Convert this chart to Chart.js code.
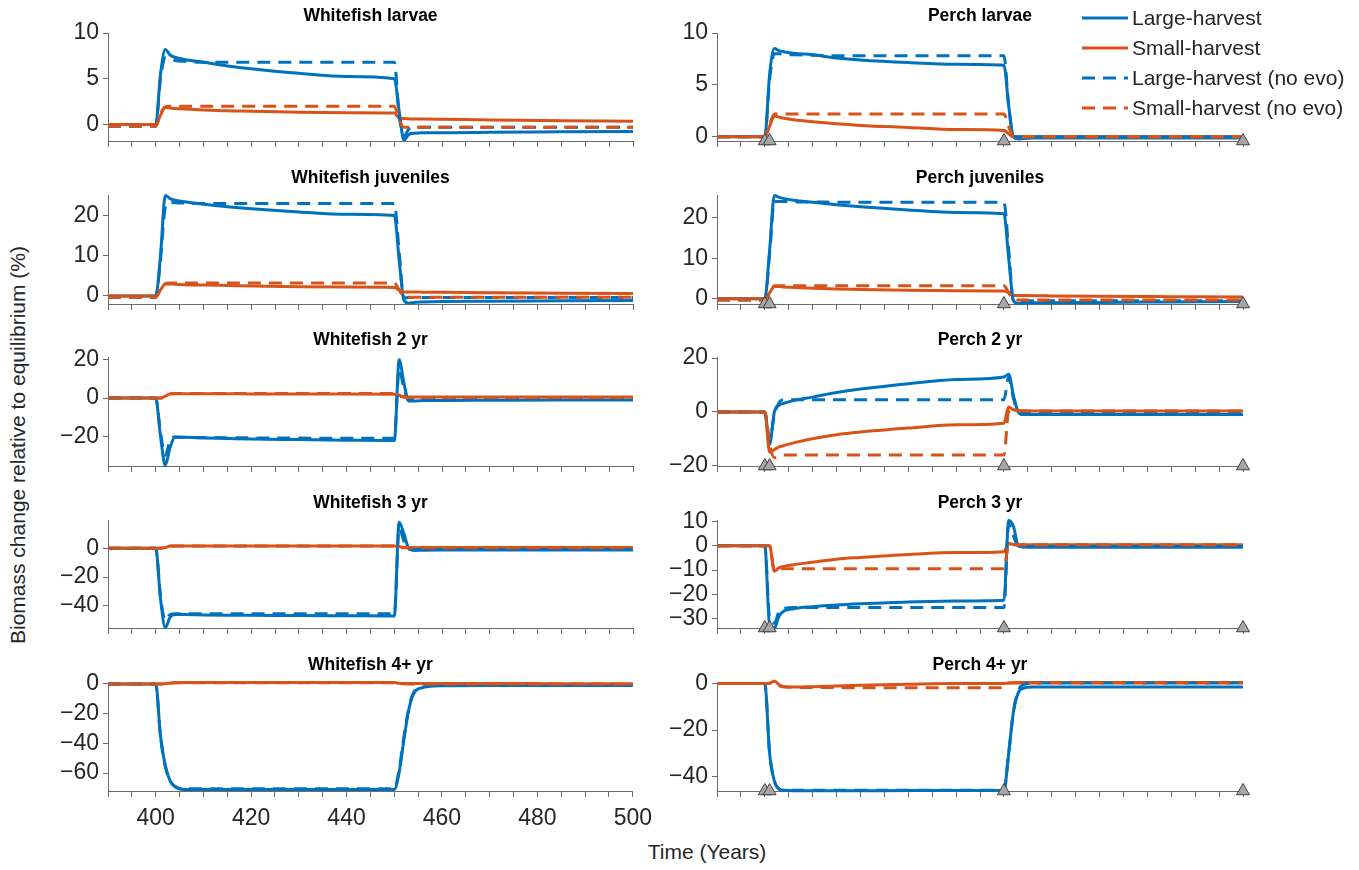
<!DOCTYPE html>
<html>
<head>
<meta charset="utf-8">
<title>Biomass change relative to equilibrium</title>
<script src="https://cdn.jsdelivr.net/npm/chart.js@4.4.1/dist/chart.umd.min.js"></script>
<style>
  html, body { margin: 0; padding: 0; background: #fff; }
  body { position: relative; width: 1359px; height: 870px; overflow: hidden;
         font-family: "Liberation Sans", Arial, sans-serif; color: #262626; }
  .panel { position: absolute; }
  #yTitle { position: absolute; left: 18px; top: 445px; transform: translate(-50%, -50%) rotate(-90deg);
            white-space: nowrap; font-size: 21px; }
  #xTitle { position: absolute; left: 707px; top: 852px; transform: translate(-50%, -50%);
            white-space: nowrap; font-size: 21px; }
</style>
</head>
<body>
<div id="yTitle">Biomass change relative to equilibrium (%)</div>
<div id="xTitle">Time (Years)</div>
<script>
// Годы, в которых сняты значения (остальное — линия между ними)
const years = [390, 400, 401, 402, 403, 404, 406, 410, 415, 420, 430, 440, 450, 451, 452, 453, 454, 456, 460, 470, 485, 500];
const markerYears = [400, 401, 450, 500];
const xTickLabels = [400, 420, 440, 460, 480, 500];
const seriesNames = ['Large-harvest', 'Small-harvest', 'Large-harvest (no evo)', 'Small-harvest (no evo)'];

// Whitefish
const wfLarvaeLarge      = [0, 0, 5.5, 8.2, 7.6, 7.35, 7.1, 6.8, 6.4, 6.1, 5.6, 5.25, 5.0, 1.5, -1.7, -1.1, -0.95, -0.9, -0.9, -0.85, -0.8, -0.75];
const wfLarvaeSmall      = [0, 0, 1.0, 1.85, 1.8, 1.75, 1.7, 1.6, 1.5, 1.45, 1.35, 1.3, 1.25, 0.7, 0.65, 0.62, 0.6, 0.6, 0.58, 0.5, 0.42, 0.35];
const wfLarvaeLargeNoEvo = [-0.2, -0.2, 5.0, 7.3, 7.2, 7.0, 6.9, 6.8, 6.8, 6.8, 6.8, 6.8, 6.8, 1.0, -1.3, -0.5, -0.3, -0.3, -0.3, -0.3, -0.3, -0.3];
const wfLarvaeSmallNoEvo = [-0.2, -0.2, 1.2, 1.95, 2.0, 2.0, 2.0, 2.0, 2.0, 2.0, 2.0, 2.0, 2.0, 0.5, -0.3, -0.3, -0.3, -0.3, -0.3, -0.3, -0.3, -0.3];

const wfJuvLarge      = [0, 0, 10, 25, 24.2, 23.8, 23.4, 22.8, 22.2, 21.7, 20.9, 20.3, 20.0, 9, -1.0, -1.8, -1.6, -1.5, -1.4, -1.3, -1.2, -1.1];
const wfJuvSmall      = [0, 0, 1.5, 3.0, 3.0, 2.9, 2.8, 2.7, 2.6, 2.5, 2.3, 2.2, 2.1, 1.5, 1.0, 1.0, 1.0, 0.95, 0.9, 0.8, 0.7, 0.6];
const wfJuvLargeNoEvo = [-0.3, -0.3, 9, 22, 23.3, 23.2, 23.1, 23.0, 23.0, 23.0, 23.0, 23.0, 23.0, 11, -0.5, -0.4, -0.4, -0.4, -0.4, -0.4, -0.4, -0.4];
const wfJuvSmallNoEvo = [-0.3, -0.3, 1.5, 3.0, 3.2, 3.2, 3.2, 3.2, 3.2, 3.2, 3.2, 3.2, 3.2, 1.5, -0.3, -0.3, -0.3, -0.3, -0.3, -0.3, -0.3, -0.3];

const wf2Large      = [0, 0, -20, -35, -26, -20.5, -20.5, -20.8, -21.1, -21.4, -21.7, -22.0, -22.2, 20, 8, -1.5, -1.5, -1.3, -1.2, -1.1, -1.0, -1.0];
const wf2Small      = [0, 0, 0, 1.0, 2.2, 2.3, 2.3, 2.3, 2.3, 2.2, 2.2, 2.1, 2.0, 1.5, 0.8, 0.6, 0.6, 0.6, 0.6, 0.6, 0.6, 0.6];
const wf2LargeNoEvo = [0, 0, -18, -30, -22, -20.3, -20.5, -20.6, -20.7, -20.8, -20.9, -21.0, -21.0, 15, 5, -0.5, -0.5, -0.5, -0.5, -0.5, -0.5, -0.5];
const wf2SmallNoEvo = [0, 0, 0, 1.0, 2.3, 2.4, 2.4, 2.4, 2.4, 2.4, 2.4, 2.4, 2.4, 1.0, 0.5, 0.3, 0.3, 0.3, 0.3, 0.3, 0.3, 0.3];

const wf3Large      = [0, 0, -35, -55, -48, -46, -46, -46.2, -46.4, -46.5, -46.6, -46.8, -47.0, 18, 10, 0, -1.5, -1.3, -1.2, -1.2, -1.2, -1.2];
const wf3Small      = [0, 0, 0, 0.5, 1.5, 1.6, 1.6, 1.6, 1.6, 1.6, 1.6, 1.5, 1.5, 1.0, 0.5, 0.3, 0.4, 0.5, 0.5, 0.5, 0.5, 0.5];
const wf3LargeNoEvo = [0, 0, -33, -50, -46, -45.5, -45.5, -45.5, -45.5, -45.5, -45.5, -45.5, -45.5, 14, 5, -0.5, -0.8, -0.8, -0.8, -0.8, -0.8, -0.8];
const wf3SmallNoEvo = [0, 0, 0, 0.8, 1.5, 1.6, 1.6, 1.6, 1.6, 1.6, 1.6, 1.6, 1.6, 0.5, 0.3, 0.3, 0.3, 0.3, 0.3, 0.3, 0.3, 0.3];

const wf4Large      = [0, 0, -35, -55, -65, -69, -71, -71, -71, -71, -71, -71, -71, -60, -38, -18, -7, -2.5, -1.2, -1.0, -1.0, -1.0];
const wf4Small      = [0, 0, 0, 0.2, 0.5, 0.8, 0.9, 0.9, 0.9, 0.9, 0.9, 0.9, 0.9, 0.5, 0.3, 0.3, 0.3, 0.3, 0.3, 0.3, 0.2, 0.2];
const wf4LargeNoEvo = [0, 0, -35, -55, -65, -69, -70.5, -70.5, -70.5, -70.5, -70.5, -70.5, -70.5, -58, -36, -17, -6, -2, -0.8, -0.6, -0.6, -0.6];
const wf4SmallNoEvo = [0, 0, 0, 0.2, 0.5, 0.8, 0.8, 0.8, 0.8, 0.8, 0.8, 0.8, 0.8, 0.3, 0.1, 0, 0, 0, 0, 0, 0, 0];

// Perch
const pLarvaeLarge      = [0, 0, 6, 8.5, 8.3, 8.2, 8.05, 7.9, 7.6, 7.4, 7.15, 7.0, 6.9, 3, 0, -0.2, -0.15, -0.1, -0.1, -0.1, -0.1, -0.1];
const pLarvaeSmall      = [0, 0, 1.0, 2.0, 1.9, 1.8, 1.65, 1.45, 1.25, 1.1, 0.9, 0.7, 0.6, 0.3, 0, 0, 0, 0, 0, 0, 0, 0];
const pLarvaeLargeNoEvo = [0, 0, 5.5, 8.0, 8.0, 7.95, 7.9, 7.85, 7.8, 7.8, 7.8, 7.8, 7.8, 3, 0, 0, 0, 0, 0, 0, 0, 0];
const pLarvaeSmallNoEvo = [0, 0, 1.2, 2.2, 2.2, 2.2, 2.2, 2.2, 2.2, 2.2, 2.2, 2.2, 2.2, 1.0, 0, 0, 0, 0, 0, 0, 0, 0];

const pJuvLarge      = [0, 0, 12, 25.5, 25, 24.7, 24.3, 23.8, 23.2, 22.7, 21.9, 21.3, 21.0, 10, -0.5, -1.2, -1.1, -1.0, -1.0, -0.9, -0.8, -0.7];
const pJuvSmall      = [0, 0, 1.5, 3.0, 3.0, 2.9, 2.8, 2.6, 2.4, 2.3, 2.1, 2.0, 1.9, 1.5, 0.8, 0.8, 0.8, 0.75, 0.7, 0.6, 0.5, 0.4];
const pJuvLargeNoEvo = [-0.3, -0.3, 11, 24, 24, 24, 23.9, 23.9, 23.8, 23.8, 23.8, 23.8, 23.8, 12, -0.5, -0.5, -0.5, -0.5, -0.5, -0.5, -0.5, -0.5];
const pJuvSmallNoEvo = [-0.3, -0.3, 1.5, 3.2, 3.2, 3.2, 3.2, 3.2, 3.2, 3.2, 3.2, 3.2, 3.2, 1.5, -0.3, -0.3, -0.3, -0.3, -0.3, -0.3, -0.3, -0.3];

const p2Large      = [0, 0, -12, 0, 2.5, 3.2, 4.2, 5.5, 7.2, 8.5, 10.5, 12, 13, 14, 6, 0, -1, -1, -1, -1, -1, -1];
const p2Small      = [0, 0, -15, -14, -13, -12.5, -11.5, -10, -8.5, -7.5, -6, -4.8, -4.2, 1.8, 0.8, 0.5, 0.4, 0.3, 0.3, 0.3, 0.3, 0.3];
const p2LargeNoEvo = [0, 0, -10, -1, 3.5, 4.5, 4.5, 4.5, 4.5, 4.5, 4.5, 4.5, 4.5, 13, 5, 0, -0.5, -0.5, -0.5, -0.5, -0.5, -0.5];
const p2SmallNoEvo = [0, 0, -12, -17, -16.5, -16, -16, -16, -16, -16, -16, -16, -16, 0, 0.5, 0.3, 0.3, 0.3, 0.3, 0.3, 0.3, 0.3];

const p3Large      = [0, 0, -33, -34, -29, -27, -26, -25.2, -24.5, -24, -23.2, -22.8, -22.5, 10.5, 8, 0, -0.5, -0.6, -0.6, -0.6, -0.6, -0.6];
const p3Small      = [0, 0, 0, -10.5, -9, -8.5, -7.8, -6.8, -5.5, -4.8, -3.6, -2.8, -2.4, 1.0, 0.6, 0.5, 0.5, 0.5, 0.5, 0.5, 0.5, 0.5];
const p3LargeNoEvo = [0, 0, -30, -32, -27, -26, -25.5, -25.5, -25.5, -25.5, -25.5, -25.5, -25.5, 9, 4, 0, -0.3, -0.3, -0.3, -0.3, -0.3, -0.3];
const p3SmallNoEvo = [0, 0, 0, -10, -9.5, -9.5, -9.5, -9.5, -9.5, -9.5, -9.5, -9.5, -9.5, 0.5, 0.5, 0.5, 0.5, 0.5, 0.5, 0.5, 0.5, 0.5];

const p4Large      = [0, 0, -30, -42, -45.5, -46, -46.2, -46.2, -46.2, -46.2, -46.1, -46.1, -46, -30, -12, -4, -2, -1.5, -1.5, -1.5, -1.5, -1.5];
const p4Small      = [0, 0, 0.2, 1.0, -0.5, -1.3, -1.5, -1.3, -1.0, -0.7, -0.3, 0, 0, 0.3, 0.4, 0.5, 0.5, 0.5, 0.5, 0.5, 0.5, 0.5];
const p4LargeNoEvo = [0, 0, -30, -42, -45.5, -46, -46, -46, -46, -46, -46, -46, -46, -30, -12, -3, -0.5, 0.2, 0.3, 0.3, 0.3, 0.3];
const p4SmallNoEvo = [0, 0, 0.2, 0.5, -1, -1.5, -1.6, -1.7, -1.7, -1.8, -1.8, -1.8, -1.8, 0.3, 0.3, 0.3, 0.3, 0.3, 0.3, 0.3, 0.3, 0.3];

// Пределы осей и подписи делений
const wfLarvaeRange = [-1.8, 10],   wfLarvaeTicks = [0, 5, 10];
const wfJuvRange    = [-2, 25.1],   wfJuvTicks    = [0, 10, 20];
const wf2Range      = [-35.5, 21.5], wf2Ticks     = [-20, 0, 20];
const wf3Range      = [-55.3, 19.6], wf3Ticks     = [-40, -20, 0];
const wf4Range      = [-72, 1.3],   wf4Ticks      = [-60, -40, -20, 0];
const pLarvaeRange  = [-0.4, 10],   pLarvaeTicks  = [0, 5, 10];
const pJuvRange     = [-1.3, 25.6], pJuvTicks     = [0, 10, 20];
const p2Range       = [-20.1, 20.4], p2Ticks      = [-20, 0, 20];
const p3Range       = [-34, 10.7],  p3Ticks       = [-30, -20, -10, 0, 10];
const p4Range       = [-46.3, 0.7], p4Ticks       = [-40, -20, 0];

const panels = [
  { title: 'Whitefish larvae',    row: 0, col: 0, range: wfLarvaeRange, ticks: wfLarvaeTicks, series: [wfLarvaeLarge, wfLarvaeSmall, wfLarvaeLargeNoEvo, wfLarvaeSmallNoEvo] },
  { title: 'Whitefish juveniles', row: 1, col: 0, range: wfJuvRange, ticks: wfJuvTicks, series: [wfJuvLarge, wfJuvSmall, wfJuvLargeNoEvo, wfJuvSmallNoEvo] },
  { title: 'Whitefish 2 yr',      row: 2, col: 0, range: wf2Range, ticks: wf2Ticks, series: [wf2Large, wf2Small, wf2LargeNoEvo, wf2SmallNoEvo] },
  { title: 'Whitefish 3 yr',      row: 3, col: 0, range: wf3Range, ticks: wf3Ticks, series: [wf3Large, wf3Small, wf3LargeNoEvo, wf3SmallNoEvo] },
  { title: 'Whitefish 4+ yr',     row: 4, col: 0, range: wf4Range, ticks: wf4Ticks, series: [wf4Large, wf4Small, wf4LargeNoEvo, wf4SmallNoEvo] },
  { title: 'Perch larvae',        row: 0, col: 1, range: pLarvaeRange, ticks: pLarvaeTicks, series: [pLarvaeLarge, pLarvaeSmall, pLarvaeLargeNoEvo, pLarvaeSmallNoEvo], legend: true },
  { title: 'Perch juveniles',     row: 1, col: 1, range: pJuvRange, ticks: pJuvTicks, series: [pJuvLarge, pJuvSmall, pJuvLargeNoEvo, pJuvSmallNoEvo] },
  { title: 'Perch 2 yr',          row: 2, col: 1, range: p2Range, ticks: p2Ticks, series: [p2Large, p2Small, p2LargeNoEvo, p2SmallNoEvo] },
  { title: 'Perch 3 yr',          row: 3, col: 1, range: p3Range, ticks: p3Ticks, series: [p3Large, p3Small, p3LargeNoEvo, p3SmallNoEvo] },
  { title: 'Perch 4+ yr',         row: 4, col: 1, range: p4Range, ticks: p4Ticks, series: [p4Large, p4Small, p4LargeNoEvo, p4SmallNoEvo] }
];

// Оформление и раскладка
const seriesColors = ['#0072BD', '#D95319', '#0072BD', '#D95319'];
const seriesDash = [[], [], [13, 8], [13, 8]];
const axisColor = '#6b6b6b';
const textColor = '#262626';
const colLeft = [30, 660], colWidth = [630, 699];
const plotLeft = [108, 717], plotRight = [633, 1243];
const rowTop = [33, 195, 357, 520, 682], rowBottom = [141, 304, 466, 628, 791];
const padTop = 4, padBottom = 10, titleBox = 27;

Chart.defaults.font.family = '"Liberation Sans", Arial, sans-serif';
Chart.defaults.color = textColor;

const minus = v => (v < 0 ? '\u2212' + Math.abs(v) : String(v));

// Легенда поверх правого верхнего графика, как в оригинале
const cornerLegend = {
  id: 'cornerLegend',
  afterDraw(chart) {
    const { ctx, chartArea } = chart;
    ctx.save();
    ctx.font = '21px "Liberation Sans", Arial, sans-serif';
    ctx.fillStyle = textColor;
    ctx.textBaseline = 'middle';
    seriesNames.forEach((name, k) => {
      const ds = chart.data.datasets[k];
      const y = chartArea.top - 15 + k * 30;
      const x0 = chartArea.right - 161;
      ctx.beginPath();
      ctx.strokeStyle = ds.borderColor;
      ctx.lineWidth = 3;
      ctx.setLineDash(ds.borderDash);
      ctx.moveTo(x0, y);
      ctx.lineTo(x0 + 46, y);
      ctx.stroke();
      ctx.setLineDash([]);
      ctx.fillText(name, x0 + 50, y + 1);
    });
    ctx.restore();
  }
};

function makePanel(p) {
  const withLabels = p.row === 4 && p.col === 0;
  const xh = withLabels ? 48 : 10;
  const top = rowTop[p.row] - padTop - titleBox;
  const height = rowBottom[p.row] + xh + padBottom - top;
  const left = colLeft[p.col], width = colWidth[p.col];

  const box = document.createElement('div');
  box.className = 'panel';
  box.style.cssText = `left:${left}px;top:${top}px;width:${width}px;height:${height}px`;
  const canvas = document.createElement('canvas');
  box.appendChild(canvas);
  document.body.appendChild(box);

  const datasets = p.series.map((vals, k) => ({
    label: seriesNames[k],
    data: years.map((x, j) => ({ x, y: vals[j] })),
    borderColor: seriesColors[k],
    borderDash: seriesDash[k],
    borderWidth: 3,
    pointRadius: 0,
    cubicInterpolationMode: 'monotone',
    order: 4 - k,
    clip: 4
  }));
  if (p.col === 1) {
    datasets.push({
      label: 'events',
      data: markerYears.map(x => ({ x, y: p.range[0] })),
      showLine: false,
      pointStyle: 'triangle',
      pointRadius: 7.5,
      pointBackgroundColor: '#a6a6a6',
      pointBorderColor: '#404040',
      pointBorderWidth: 1,
      order: 0,
      clip: false
    });
  }

  new Chart(canvas, {
    type: 'line',
    data: { datasets },
    plugins: p.legend ? [cornerLegend] : [],
    options: {
      responsive: true,
      maintainAspectRatio: false,
      animation: false,
      devicePixelRatio: 1,
      events: [],
      layout: { padding: { left: 0, right: left + width - plotRight[p.col], top: padTop, bottom: padBottom } },
      plugins: {
        legend: { display: false },
        tooltip: { enabled: false },
        title: {
          display: true, text: p.title, fullSize: false, color: '#000',
          font: { size: 17.5, weight: 'bold' }, padding: { top: 0, bottom: 6 }
        }
      },
      scales: {
        x: {
          type: 'linear', min: 390, max: 500,
          ticks: {
            stepSize: 5, autoSkip: false, maxRotation: 0, color: textColor,
            font: { size: 23 }, padding: 8,
            callback: v => (withLabels && xTickLabels.includes(v)) ? String(v) : ''
          },
          grid: { drawOnChartArea: false, tickLength: 6, color: axisColor },
          border: { color: axisColor },
          afterFit: s => { s.height = xh; }
        },
        y: {
          min: p.range[0], max: p.range[1],
          ticks: { color: textColor, font: { size: 23 }, padding: 4, autoSkip: false, callback: v => minus(v) },
          grid: { drawOnChartArea: false, tickLength: 5, color: axisColor },
          border: { color: axisColor },
          afterBuildTicks: s => { s.ticks = p.ticks.map(v => ({ value: v })); },
          afterFit: s => { s.width = plotLeft[p.col] - left; }
        }
      }
    }
  });
}

panels.forEach(makePanel);
</script>
</body>
</html>
